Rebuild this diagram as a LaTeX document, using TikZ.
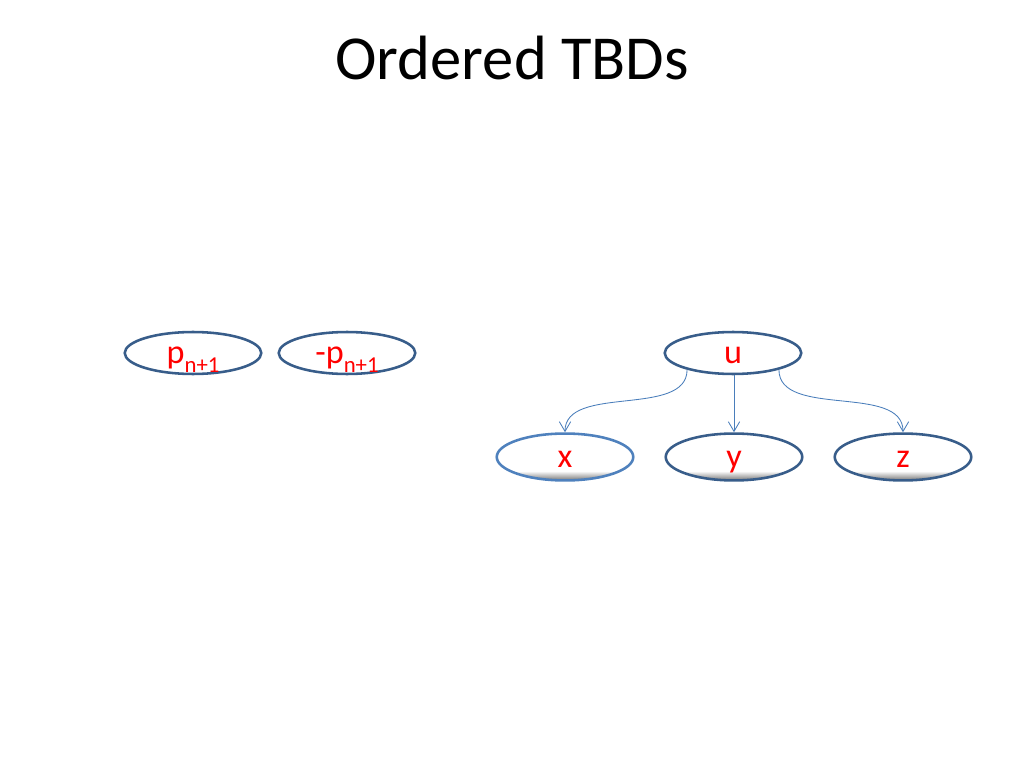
\documentclass[tikz,border=0pt]{standalone}
\usepackage{fontspec}
\setmainfont{Carlito}
\usepackage{xcolor}
\usepackage{tikz}
\usetikzlibrary{arrows.meta,shapes.geometric}
\definecolor{tline}{HTML}{385D8A}
\definecolor{tlight}{HTML}{4F81BD}
\definecolor{tarrow}{HTML}{4A7EBB}
\definecolor{tred}{HTML}{FF0000}
\pgfdeclareverticalshading{tbevel}{100bp}{color(0bp)=(black!55);
  color(25bp)=(black!55); color(35bp)=(white); color(100bp)=(white)}
\newcommand{\tsub}[1]{\raisebox{-0.25em}{\fontsize{16}{18}\selectfont #1}}
\tikzset{
  >={Straight Barb[length=2.4mm,width=2.8mm]},
  tnode/.style={ellipse, draw=tline, fill=white, line width=1.8pt,
                minimum width=96pt, minimum height=29.5pt, inner sep=0pt,
                text height=15pt, text depth=0pt,
                font=\fontsize{24}{26}\selectfont, text=tred},
  tleaf/.style={tnode, minimum height=33pt, shading=tbevel},
  tedge/.style={->, tarrow, line width=0.6pt},
  ttitle/.style={font=\fontsize{44}{48}\selectfont, anchor=base},
}
\begin{document}
\begin{tikzpicture}[x=0.703125pt, y=-0.703125pt]

  % slide area
  \useasboundingbox (0,0) rectangle (1024,768);

  % title
  \node[ttitle] (title) at (512,80) {Ordered TBDs};

  % literal pair
  \node[tnode] (p)  at (193,353) {p\tsub{n+1}};
  \node[tnode] (np) at (347,353) {-p\tsub{n+1}};

  % tree
  \node[tnode] (u) at (733,353) {u};
  \node[tleaf, draw=tlight] (x) at (565,457) {x};
  \node[tleaf] (y) at (734,457) {y};
  \node[tleaf] (z) at (903,457) {z};

  \draw[tedge] (u.200) to[out=-90, in=90, looseness=0.9] (x.north);
  \draw[tedge] (u.south -| y.north) -- (y.north);
  \draw[tedge] (u.340) to[out=-90, in=90, looseness=0.9] (z.north);

\end{tikzpicture}
\end{document}
